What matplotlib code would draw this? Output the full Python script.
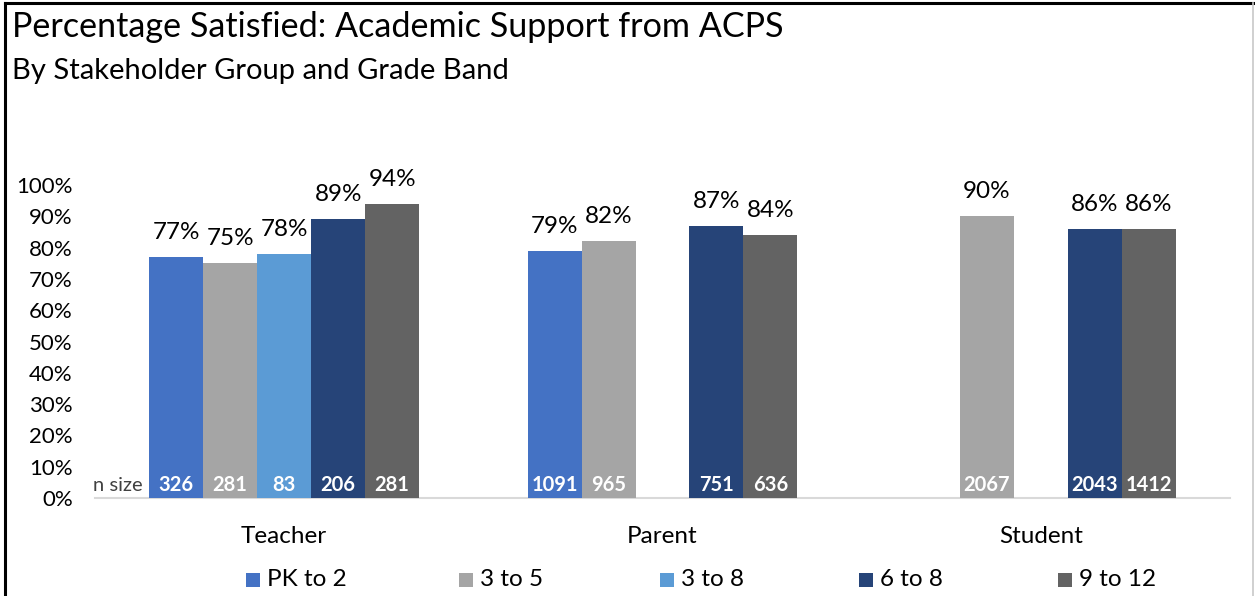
import matplotlib
matplotlib.use("Agg")
import matplotlib.pyplot as plt
from matplotlib.patches import Rectangle
from matplotlib.lines import Line2D

plt.rcParams['font.family'] = ['Lato', 'DejaVu Sans']

# ---- data -------------------------------------------------------------
groups = ["Teacher", "Parent", "Student"]
series = ["PK to 2", "3 to 5", "3 to 8", "6 to 8", "9 to 12"]
colors = ["#4472C4", "#A5A5A5", "#5B9BD5", "#264478", "#636363"]

# percentage satisfied per grade band (Teacher, Parent, Student)
pct_pk2 = [77, 79, None]
pct_3to5 = [75, 82, 90]
pct_3to8 = [78, None, None]
pct_6to8 = [89, 87, 86]
pct_9to12 = [94, 84, 86]

# respondents per grade band (Teacher, Parent, Student)
n_pk2 = [326, 1091, None]
n_3to5 = [281, 965, 2067]
n_3to8 = [83, None, None]
n_6to8 = [206, 751, 2043]
n_9to12 = [281, 636, 1412]

yticks = [0, 10, 20, 30, 40, 50, 60, 70, 80, 90, 100]

pct_all = [pct_pk2, pct_3to5, pct_3to8, pct_6to8, pct_9to12]
n_all = [n_pk2, n_3to5, n_3to8, n_6to8, n_9to12]

# ---- figure -----------------------------------------------------------
W, H = 1255, 596
fig = plt.figure(figsize=(W / 100, H / 100), dpi=100)
fig.patch.set_facecolor("white")

ax_left, ax_right, ax_bot, ax_top = 95, 1230, 498, 185
ax = fig.add_axes([ax_left / W, 1 - ax_bot / H,
                   (ax_right - ax_left) / W, (ax_bot - ax_top) / H])

bar_w = 0.1427
x_base = list(range(len(groups)))

for i, (name, vals, ns, col) in enumerate(zip(series, pct_all, n_all, colors)):
    off = (i - 2) * bar_w
    for g, (v, n) in enumerate(zip(vals, ns)):
        if v is None:
            continue
        x = x_base[g] + off
        ax.bar(x, v, width=bar_w, color=col, edgecolor="none", zorder=2)
        ax.annotate(f"{v}%", (x, v), xytext=(0, 13), textcoords="offset points",
                    ha="center", va="baseline", fontsize=17.5, color="#000000",
                    annotation_clip=False)
        ax.annotate(f"{n}", (x, 0), xytext=(0, 5), textcoords="offset points",
                    ha="center", va="baseline", fontsize=14.5, fontweight="bold",
                    color="white", zorder=3)

ax.annotate("n size", (x_base[0] - 2.5 * bar_w, 0), xytext=(-5, 5),
            textcoords="offset points", ha="right", va="baseline",
            fontsize=14.5, color="#404040")

ax.set_xlim(-0.5, len(groups) - 0.5)
ax.set_ylim(0, 100)
ax.set_yticks(yticks)
ax.set_yticklabels([f"{t}%" for t in yticks], fontsize=16)
ax.set_xticks(x_base)
ax.set_xticklabels(groups, fontsize=17.5)
ax.tick_params(axis="both", length=0)
ax.tick_params(axis="y", pad=16)
ax.tick_params(axis="x", pad=20)
for s in ["top", "right", "left"]:
    ax.spines[s].set_visible(False)
ax.spines["bottom"].set_color("#D9D9D9")
ax.spines["bottom"].set_linewidth(1.5)
ax.spines["bottom"].set_zorder(1)

# ---- titles -----------------------------------------------------------
fig.text(12 / W, 1 - 37 / H, "Percentage Satisfied: Academic Support from ACPS",
         fontsize=24.6, ha="left", va="baseline", color="#000000")
fig.text(12 / W, 1 - 79 / H, "By Stakeholder Group and Grade Band",
         fontsize=21, ha="left", va="baseline", color="#000000")

# ---- legend -----------------------------------------------------------
leg_x = [246, 459, 660, 859, 1058]
leg_y = 580
sq = 14
for lx, name, col in zip(leg_x, series, colors):
    fig.patches.append(Rectangle((lx / W, 1 - (leg_y + sq / 2) / H), sq / W, sq / H,
                                 transform=fig.transFigure, facecolor=col,
                                 edgecolor="none"))
    fig.text((lx + sq + 7) / W, 1 - leg_y / H, name, fontsize=17.5,
             ha="left", va="center", color="#000000")

# ---- frame ------------------------------------------------------------
fig.lines.append(Line2D([5 / W, 5 / W], [0, 1 - 3 / H], transform=fig.transFigure,
                        color="black", linewidth=2.2))
fig.lines.append(Line2D([5 / W, 1], [1 - 3 / H, 1 - 3 / H], transform=fig.transFigure,
                        color="black", linewidth=2.2))
fig.lines.append(Line2D([1253 / W, 1253 / W], [0, 1 - 3 / H], transform=fig.transFigure,
                        color="#C8C8C8", linewidth=1.2))

fig.savefig("out.png", dpi=100, facecolor="white")
